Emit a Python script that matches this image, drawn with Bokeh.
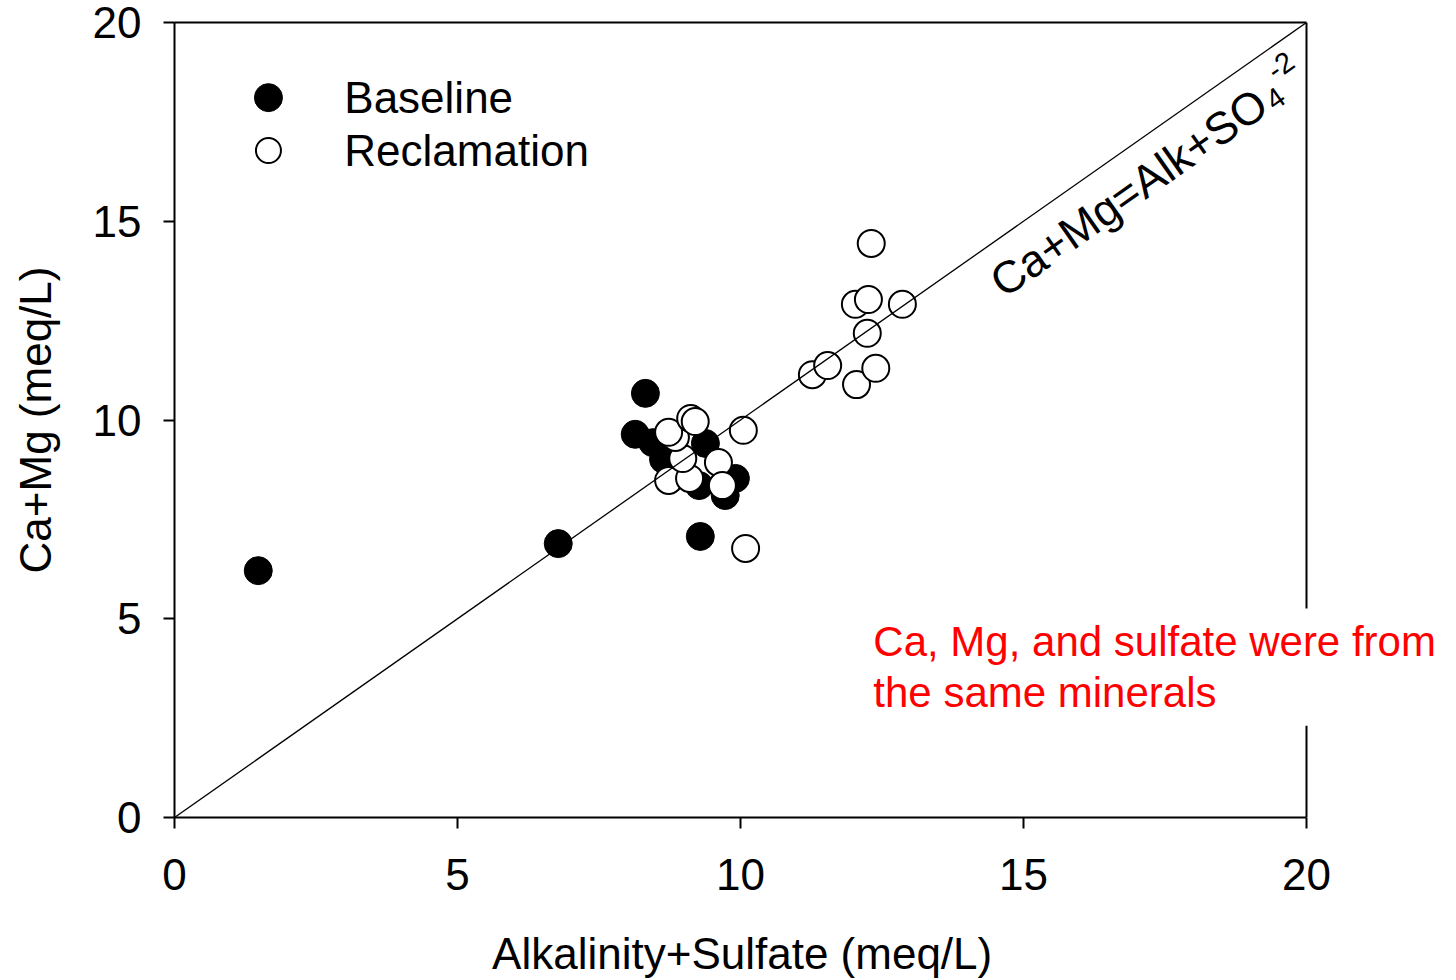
import math

from bokeh.embed import file_html
from bokeh.models import ColumnDataSource, FixedTicker, Label, LinearAxis, Range1d, Span
from bokeh.plotting import figure
from bokeh.resources import INLINE

# Alkalinity + sulfate vs. Ca + Mg (meq/L)
baseline_alk_so4 = [1.48, 6.78, 8.32, 8.14, 8.45, 8.64, 9.38, 9.27, 9.73, 9.91, 9.29]
baseline_ca_mg = [6.21, 6.89, 10.67, 9.64, 9.43, 9.01, 9.41, 8.35, 8.10, 8.53, 7.07]

reclam_alk_so4 = [8.73, 9.10, 8.98, 8.85, 8.73, 9.12, 9.20, 9.61, 9.68, 10.05, 10.09,
                  12.31, 12.03, 12.26, 12.86, 12.24, 11.27, 11.54, 12.05, 12.39]
reclam_ca_mg = [8.48, 8.53, 9.03, 9.56, 9.69, 10.04, 9.96, 8.93, 8.35, 9.74, 6.77,
                14.44, 12.91, 13.03, 12.91, 12.18, 11.14, 11.37, 10.89, 11.30]

one_to_one = [0, 20]
ticks = [0, 5, 10, 15, 20]
AX_MIN, AX_MAX = 0, 20
X_TITLE = "Alkalinity+Sulfate (meq/L)"
Y_TITLE = "Ca+Mg (meq/L)"

FONT = "Liberation Sans"
W, H = 1456, 980
LEFT, TOP, BOTTOM = 174, 22, 163
BOX_W = 1132                      # width of the boxed 0-20 region
FRAME_H = H - TOP - BOTTOM
x_end = AX_MAX * (W - LEFT) / BOX_W   # room on the right for the note

# the axis title is centred on the whole frame; trailing no-break spaces
# pull the visible words back under the 0-20 box
x_title_pad = "\u00a0" * 12

p = figure(width=W, height=H, output_backend="svg", toolbar_location=None,
           x_range=Range1d(AX_MIN, x_end), y_range=Range1d(AX_MIN, AX_MAX),
           min_border_left=LEFT, min_border_right=0,
           min_border_top=TOP, min_border_bottom=BOTTOM,
           x_axis_label=X_TITLE + x_title_pad, y_axis_label=Y_TITLE)
p.outline_line_color = None
p.grid.visible = False
p.background_fill_color = "white"
p.border_fill_color = "white"

for ax in (p.xaxis[0], p.yaxis[0]):
    ax.ticker = FixedTicker(ticks=ticks)
    ax.bounds = (AX_MIN, AX_MAX)
    ax.axis_line_width = 2
    ax.axis_line_color = "black"
    ax.major_tick_line_width = 2
    ax.major_tick_in = 0
    ax.major_tick_out = 11
    ax.minor_tick_line_color = None
    ax.major_label_text_font = FONT
    ax.major_label_text_font_size = "44px"
    ax.major_label_text_color = "black"
    ax.axis_label_text_font = FONT
    ax.axis_label_text_font_size = "44px"
    ax.axis_label_text_font_style = "normal"
    ax.axis_label_text_color = "black"

p.xaxis.major_label_standoff = 30
p.xaxis.axis_label_standoff = 36
p.yaxis.major_label_standoff = 22
p.yaxis.axis_label_standoff = 30

# top frame line
top = LinearAxis(ticker=FixedTicker(ticks=[]), bounds=(AX_MIN, AX_MAX), axis_line_width=2,
                 axis_line_color="black", major_tick_line_color=None,
                 minor_tick_line_color=None, major_label_text_font_size="0px")
p.add_layout(top, "above")
# right frame line
p.add_layout(Span(location=AX_MAX, dimension="height", line_color="black", line_width=2))

base_src = ColumnDataSource(dict(x=baseline_alk_so4, y=baseline_ca_mg))
recl_src = ColumnDataSource(dict(x=reclam_alk_so4, y=reclam_ca_mg))

p.scatter("x", "y", source=base_src, size=28, fill_color="black",
          line_color="black", line_width=1)
p.scatter("x", "y", source=recl_src, size=27, fill_color="white",
          line_color="black", line_width=2)
p.line(one_to_one, one_to_one, line_color="black", line_width=1.3)

# legend
p.scatter([1.66], [18.11], size=28, fill_color="black", line_color="black")
p.scatter([1.66], [16.78], size=25, fill_color="white", line_color="black", line_width=2)
for yy, txt in ((18.11, "Baseline"), (16.78, "Reclamation")):
    p.add_layout(Label(x=3.0, y=yy, text=txt, text_font=FONT, text_font_size="44px",
                       text_color="black", text_baseline="middle", text_align="left"))

# 1:1 line label
ang = math.atan2(FRAME_H, BOX_W)
p.add_layout(Label(x=16.86, y=15.72, text="Ca+Mg=Alk+SO", angle=ang,
                   text_font=FONT, text_font_size="45px", text_color="black",
                   text_align="center", text_baseline="middle"))
p.add_layout(Label(x=19.45, y=18.09, text="4", angle=ang,
                   text_font=FONT, text_font_size="29px", text_color="black",
                   text_align="center", text_baseline="middle"))
p.add_layout(Label(x=19.54, y=18.92, text="-2", angle=ang,
                   text_font=FONT, text_font_size="29px", text_color="black",
                   text_align="center", text_baseline="middle"))

# note
p.add_layout(Label(x=12.17, y=5.26, text="Ca, Mg, and sulfate were from\nthe same minerals",
                   text_font=FONT, text_font_size="42px", text_color="red",
                   text_align="left", text_baseline="top", text_line_height=1.07,
                   background_fill_color="white", padding=10))

open("out.html", "w").write(file_html(p, INLINE))
